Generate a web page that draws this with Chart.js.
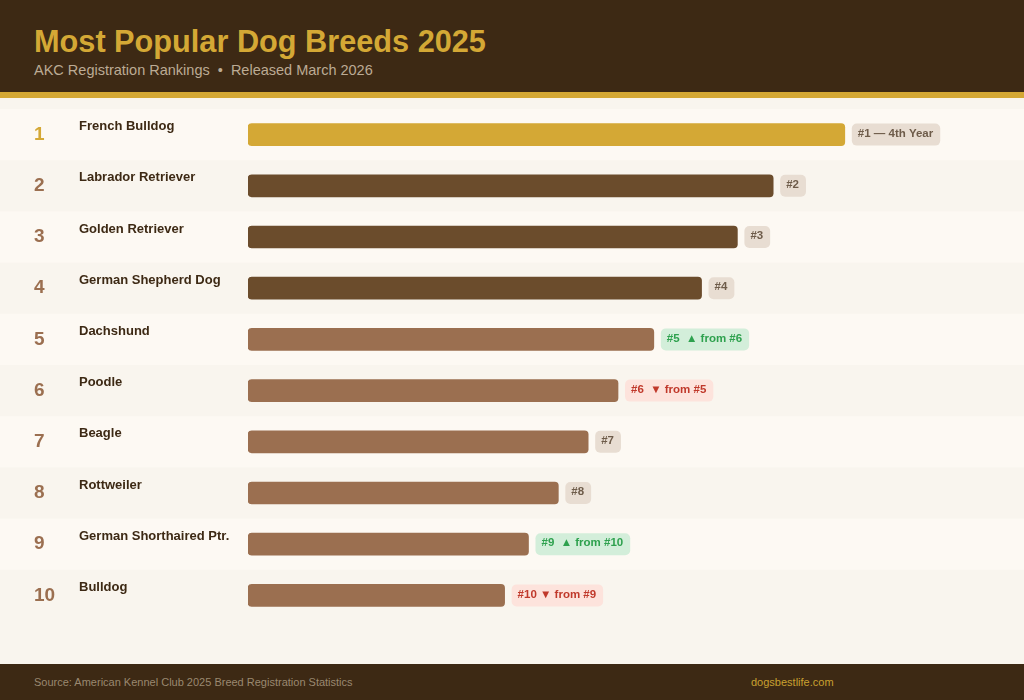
<!DOCTYPE html>
<html>
<head>
<meta charset="utf-8">
<script src="https://cdn.jsdelivr.net/npm/chart.js@4.4.1/dist/chart.umd.min.js"></script>
<style>
  html, body { margin: 0; padding: 0; }
  body {
    width: 1024px; height: 700px; position: relative; overflow: hidden;
    background: #f9f5ee; font-family: "Liberation Sans", Arial, sans-serif;
  }
  .header {
    position: absolute; left: 0; top: 0; width: 1024px; height: 92px;
    background: #3d2914; border-bottom: 6px solid #d4a835;
  }
  .header h1 {
    position: absolute; left: 34px; top: 24px; margin: 0;
    font-size: 30.7px; font-weight: bold; color: #d4a835;
  }
  .header .sub {
    position: absolute; left: 34px; top: 62px;
    font-size: 14.5px; color: #bcab94;
  }
  .chart-wrap { position: absolute; left: 0; top: 98px; width: 1024px; height: 566px; }
  .footer {
    position: absolute; left: 0; top: 664px; width: 1024px; height: 36px;
    background: #3d2914; font-size: 11px;
  }
  .footer .src { position: absolute; left: 34px; top: 12px; color: #9a8870; }
  .footer .site { position: absolute; left: 751px; top: 12px; color: #c9a030; }
</style>
</head>
<body>
<div class="header">
  <h1>Most Popular Dog Breeds 2025</h1>
  <div class="sub">AKC Registration Rankings &nbsp;•&nbsp; Released March 2026</div>
</div>
<div class="chart-wrap"><canvas id="chart" width="1024" height="566"></canvas></div>
<div class="footer">
  <span class="src">Source: American Kennel Club 2025 Breed Registration Statistics</span>
  <span class="site">dogsbestlife.com</span>
</div>
<script>
// Data (relative popularity, #1 = 100)
const breeds = ['French Bulldog', 'Labrador Retriever', 'Golden Retriever', 'German Shepherd Dog',
    'Dachshund', 'Poodle', 'Beagle', 'Rottweiler', 'German Shorthaired Ptr.', 'Bulldog'];
const ranks = ['1', '2', '3', '4', '5', '6', '7', '8', '9', '10'];
const scores = [100, 88, 82, 76, 68, 62, 57, 52, 47, 43];
const badges = ['#1 — 4th Year', '#2', '#3', '#4', '#5  ▲ from #6', '#6  ▼ from #5',
    '#7', '#8', '#9  ▲ from #10', '#10 ▼ from #9'];
const badgeKinds = ['plain', 'plain', 'plain', 'plain', 'up', 'down', 'plain', 'plain', 'up', 'down'];

const barColors = scores.map((v, i) => i === 0 ? '#d4a835' : (i < 4 ? '#6b4c2c' : '#9b6f50'));
const badgeStyles = {
    plain: { bg: '#e8ddd2', fg: '#6e5c4a' },
    up: { bg: '#d3eeda', fg: '#2ea14e' },
    down: { bg: '#fde3dc', fg: '#c0392b' }
};

// row stripes, rank numbers, names and badges
const rowPlugin = {
    id: 'rows',
    beforeDatasetsDraw(chart) {
        const ctx = chart.ctx;
        const y = chart.scales.y;
        const step = y.getPixelForValue(1) - y.getPixelForValue(0);
        ctx.save();
        breeds.forEach((b, i) => {
            if (i % 2 === 0) {
                const cy = y.getPixelForValue(i);
                ctx.fillStyle = '#fdf9f3';
                ctx.fillRect(0, cy - step / 2, chart.width, step);
            }
        });
        ctx.restore();
    },
    afterDatasetsDraw(chart) {
        const ctx = chart.ctx;
        const y = chart.scales.y;
        const meta = chart.getDatasetMeta(0);
        ctx.save();
        ctx.textBaseline = 'middle';
        breeds.forEach((b, i) => {
            const cy = y.getPixelForValue(i);
            ctx.font = 'bold 19px "Liberation Sans", Arial, sans-serif';
            ctx.fillStyle = i === 0 ? '#d4a835' : '#9b6f50';
            ctx.textAlign = 'left';
            ctx.fillText(ranks[i], 34, cy);

            ctx.font = 'bold 13px "Liberation Sans", Arial, sans-serif';
            ctx.fillStyle = '#3d2914';
            ctx.fillText(b, 79, cy - 8);

            // badge after the bar
            const bar = meta.data[i];
            const st = badgeStyles[badgeKinds[i]];
            ctx.font = 'bold 11.5px "Liberation Sans", Arial, sans-serif';
            const w = ctx.measureText(badges[i]).width + 13;
            const x0 = bar.x + 7;
            const h = 22;
            ctx.fillStyle = st.bg;
            ctx.beginPath();
            ctx.roundRect(x0, cy - h / 2, w, h, 5);
            ctx.fill();
            ctx.fillStyle = st.fg;
            ctx.fillText(badges[i], x0 + 6, cy - 1);
        });
        ctx.restore();
    }
};

new Chart(document.getElementById('chart'), {
    type: 'bar',
    data: {
        labels: breeds,
        datasets: [{
            data: scores,
            backgroundColor: barColors,
            borderRadius: 4,
            borderSkipped: false,
            barThickness: 22
        }]
    },
    options: {
        indexAxis: 'y',
        responsive: false,
        animation: false,
        layout: { padding: { left: 248, right: 30, top: 11, bottom: 43 } },
        plugins: { legend: { display: false }, tooltip: { enabled: false } },
        scales: {
            x: { display: false, min: 0, max: 125 },
            y: { display: false }
        }
    },
    plugins: [rowPlugin]
});
</script>
</body>
</html>
